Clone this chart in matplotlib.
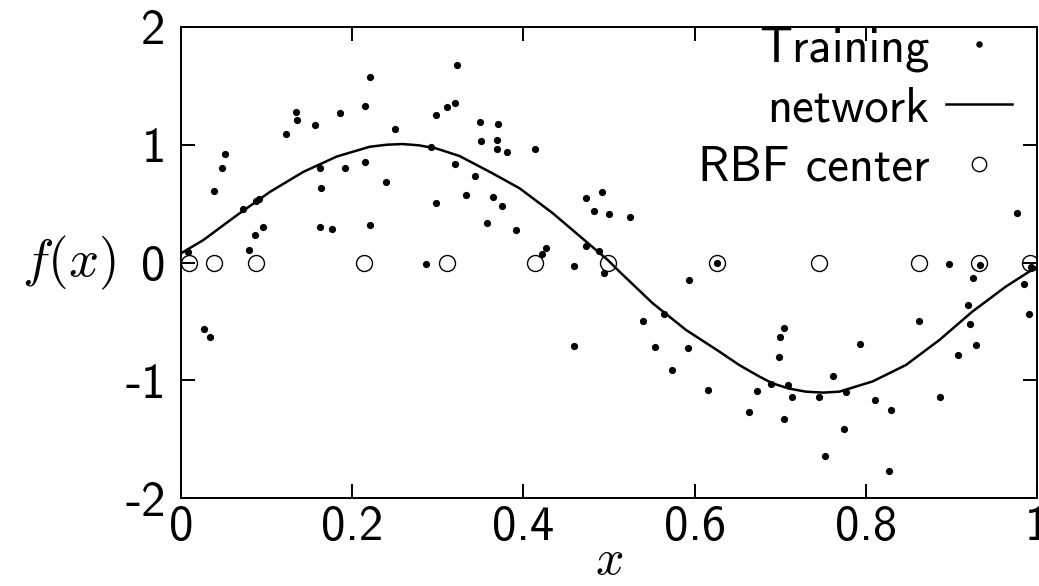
import matplotlib.pyplot as plt

# training samples
train_x = [0.0085, 0.0265, 0.0338, 0.039, 0.0475, 0.051, 0.072, 0.079, 0.086, 0.0875,
           0.091, 0.0957, 0.1225, 0.134, 0.136, 0.157, 0.162, 0.164, 0.162, 0.176,
           0.186, 0.192, 0.2147, 0.221, 0.2155, 0.221, 0.239, 0.2497, 0.286, 0.2925,
           0.298, 0.298, 0.311, 0.320, 0.323, 0.3205, 0.333, 0.344, 0.3497, 0.351,
           0.357, 0.365, 0.3687, 0.3695, 0.370, 0.3754, 0.381, 0.391, 0.414, 0.422,
           0.426, 0.4586, 0.4594, 0.473, 0.473, 0.482, 0.488, 0.492, 0.4936, 0.4995,
           0.5247, 0.540, 0.554, 0.5648, 0.5737, 0.5924, 0.5936, 0.6157, 0.626, 0.664,
           0.673, 0.689, 0.699, 0.700, 0.7048, 0.7044, 0.7094, 0.714, 0.745, 0.752,
           0.762, 0.774, 0.777, 0.793, 0.8106, 0.827, 0.830, 0.862, 0.8865, 0.897,
           0.9075, 0.919, 0.9215, 0.9253, 0.9285, 0.9335, 0.977, 0.985, 0.9907, 0.9934]
train_y = [0.087, -0.565, -0.632, 0.61, 0.805, 0.92, 0.457, 0.106, 0.233, 0.522,
           0.539, 0.30, 1.093, 1.275, 1.21, 1.17, 0.80, 0.635, 0.30, 0.287,
           1.27, 0.805, 1.33, 1.577, 0.856, 0.32, 0.686, 1.136, -0.013, 0.978,
           1.255, 0.508, 1.32, 1.351, 1.679, 0.839, 0.576, 0.737, 1.195, 1.034,
           0.338, 0.559, 0.966, 1.043, 1.178, 0.482, 0.938, 0.279, 0.966, 0.07,
           0.126, -0.027, -0.709, 0.55, 0.143, 0.44, 0.098, 0.598, -0.089, 0.414,
           0.386, -0.494, -0.715, -0.44, -0.91, -0.723, -0.149, -1.08, -0.007, -1.266,
           -1.091, -1.029, -0.80, -0.63, -0.553, -1.326, -1.037, -1.139, -1.139, -1.64,
           -0.96, -1.413, -1.097, -0.689, -1.165, -1.77, -1.252, -0.494, -1.139, -0.01,
           -0.782, -0.358, -0.52, -0.129, -0.698, -0.024, 0.418, -0.18, -0.44, -0.041]

# network output
net_x = [0.0, 0.026, 0.065, 0.104, 0.143, 0.182, 0.2205, 0.24, 0.259, 0.278,
         0.298, 0.3255, 0.364, 0.3956, 0.4344, 0.4734, 0.4986, 0.5123, 0.551, 0.590,
         0.629, 0.652, 0.676, 0.691, 0.710, 0.730, 0.750, 0.769, 0.808, 0.847,
         0.886, 0.9245, 0.9635, 1.0]
net_y = [0.078, 0.19, 0.40, 0.60, 0.77, 0.90, 0.983, 1.0, 1.006, 0.995,
         0.969, 0.904, 0.757, 0.630, 0.418, 0.177, 0.021, -0.078, -0.346, -0.573,
         -0.757, -0.870, -0.97, -1.026, -1.07, -1.097, -1.105, -1.097, -1.01, -0.87,
         -0.658, -0.417, -0.205, -0.035]

# RBF centres
centers_x = [0.0093, 0.0389, 0.0871, 0.2135, 0.3104, 0.414, 0.4986, 0.626,
             0.745, 0.862, 0.9327, 0.9918]
centers_y = [0, 0, 0, 0, 0, 0, 0, 0, 0, 0, 0, 0]

xticks = [0, 0.2, 0.4, 0.6, 0.8, 1]
xtick_labels = ["0", "0.2", "0.4", "0.6", "0.8", "1"]
yticks = [-2, -1, 0, 1, 2]
ytick_labels = ["-2", "-1", "0", "1", "2"]

plt.rcParams["font.family"] = "cmss10"
plt.rcParams["mathtext.fontset"] = "cm"
plt.rcParams["axes.unicode_minus"] = False

fig = plt.figure(figsize=(10.39, 5.86), dpi=100)
ax = fig.add_axes([181 / 1039, 88 / 586, 856 / 1039, 471 / 586])

ax.plot(train_x, train_y, "o", color="black", ms=5.2, mew=0, label="Training")
ax.plot(net_x, net_y, "-", color="black", lw=1.8, label="network")
ax.plot(centers_x, centers_y, "o", mfc="none", mec="black", ms=11.5, mew=1.0,
        label="RBF center")

ax.set_xlim(0, 1)
ax.set_ylim(-2, 2)
ax.set_xticks(xticks)
ax.set_xticklabels(xtick_labels)
ax.set_yticks(yticks)
ax.set_yticklabels(ytick_labels)
ax.tick_params(direction="in", top=True, right=True, length=10, width=1.4,
               labelsize=35)
ax.tick_params(axis="y", pad=11)
ax.tick_params(axis="x", pad=5)
for s in ax.spines.values():
    s.set_linewidth(1.4)

ax.set_ylabel(r"$f(x)$", rotation=0, fontsize=38, va="center", ha="center")
ax.yaxis.set_label_coords(-0.131, 0.5)
ax.set_xlabel(r"$x$", fontsize=36, va="top")
ax.xaxis.set_label_coords(0.5, -0.088)

ax.legend(loc="upper right", bbox_to_anchor=(0.9736, 1.007), markerfirst=False,
          frameon=False, fontsize=35, handlelength=1.35, handletextpad=0.35,
          labelspacing=0.3, borderaxespad=0.0, borderpad=0.05, markerscale=0.9)

fig.savefig("out.png", dpi=100)
